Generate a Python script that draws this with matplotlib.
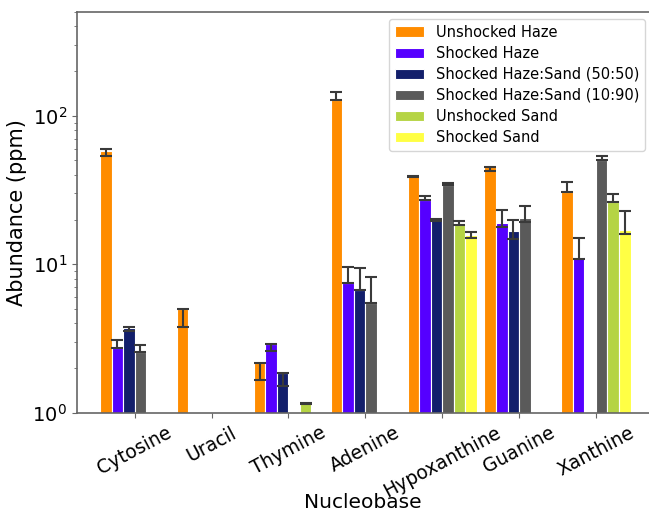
import numpy as np
import matplotlib.pyplot as plt

nucleobases = ['Cytosine', 'Uracil', 'Thymine', 'Adenine', 'Hypoxanthine', 'Guanine', 'Xanthine']
series = ['Unshocked Haze', 'Shocked Haze', 'Shocked Haze:Sand (50:50)',
          'Shocked Haze:Sand (10:90)', 'Unshocked Sand', 'Shocked Sand']
colors = ['#ff8c00', '#5500ff', '#131f6b', '#5a5a5a', '#b5d444', '#ffff44']

nan = np.nan
# abundance (ppm), one list per sample, in nucleobase order
unshocked_haze = [58.0, 5.0, 2.17, 128.0, 39.1, 45.0, 30.5]
shocked_haze = [2.73, nan, 2.90, 7.44, 27.1, 19.0, 11.2]
haze_sand_5050 = [3.74, nan, 1.84, 6.70, 19.9, 16.7, nan]
haze_sand_1090 = [2.57, nan, nan, 5.51, 34.1, 20.4, 50.3]
unshocked_sand = [nan, nan, 1.16, nan, 18.5, nan, 26.1]
shocked_sand = [nan, nan, nan, nan, 15.7, nan, 17.0]

# lower / upper error for each sample
err_lo = [
    [4.0, 1.2, 0.51, 0.0, 0.4, 2.5, 0.0],
    [0.0, nan, 0.30, 0.0, 0.0, 1.3, 0.4],
    [0.2, nan, 0.32, 0.0, 0.3, 2.0, nan],
    [0.02, nan, nan, 0.0, 0.0, 1.1, 0.3],
    [nan, nan, 0.01, nan, 0.0, nan, 0.0],
    [nan, nan, nan, nan, 0.6, nan, 0.9],
]
err_hi = [
    [2.0, 0.03, 0.0, 17.0, 0.4, 0.5, 5.1],
    [0.36, nan, 0.0, 2.1, 1.6, 4.3, 3.9],
    [0.05, nan, 0.0, 2.7, 0.3, 3.1, nan],
    [0.29, nan, nan, 2.65, 1.3, 4.3, 3.5],
    [nan, nan, 0.01, nan, 1.0, nan, 3.6],
    [nan, nan, nan, nan, 0.8, nan, 5.8],
]

values = [unshocked_haze, shocked_haze, haze_sand_5050, haze_sand_1090,
          unshocked_sand, shocked_sand]

fig = plt.figure(figsize=(6.49, 5.14), dpi=100)
ax = fig.add_axes([0.1186, 0.197, 0.8814, 0.7797])

x = np.arange(len(nucleobases))
width = 0.15
for i, (name, vals) in enumerate(zip(series, values)):
    offset = (i - 2.5) * width
    ax.bar(x + offset, vals, width, color=colors[i], edgecolor='white', linewidth=0.8,
           label=name,
           yerr=[err_lo[i], err_hi[i]],
           error_kw=dict(ecolor='#3a3a3a', elinewidth=1.5, capsize=4, capthick=1.5))

ax.set_yscale('log')
ax.set_ylim(1, 500)
ax.set_xlim(-0.75, 6.69)
ax.set_xticks(x)
ax.set_xticklabels(nucleobases, rotation=28, ha='center', fontsize=13.5)
ax.tick_params(axis='x', pad=4)
ax.tick_params(axis='y', labelsize=14)
ax.tick_params(colors='#666666', labelcolor='black', which='both')
ax.set_xlabel('Nucleobase', fontsize=14.5)
ax.xaxis.set_label_coords(0.5, -0.2)
ax.set_ylabel('Abundance (ppm)', fontsize=15)
for s in ax.spines.values():
    s.set_color('#666666')
    s.set_linewidth(1.2)
ax.spines['right'].set_visible(False)

ax.legend(loc='upper right', fontsize=10.5, borderaxespad=0, labelspacing=0.42,
          bbox_to_anchor=(0.993, 0.983))

fig.savefig('out.png', dpi=100)
